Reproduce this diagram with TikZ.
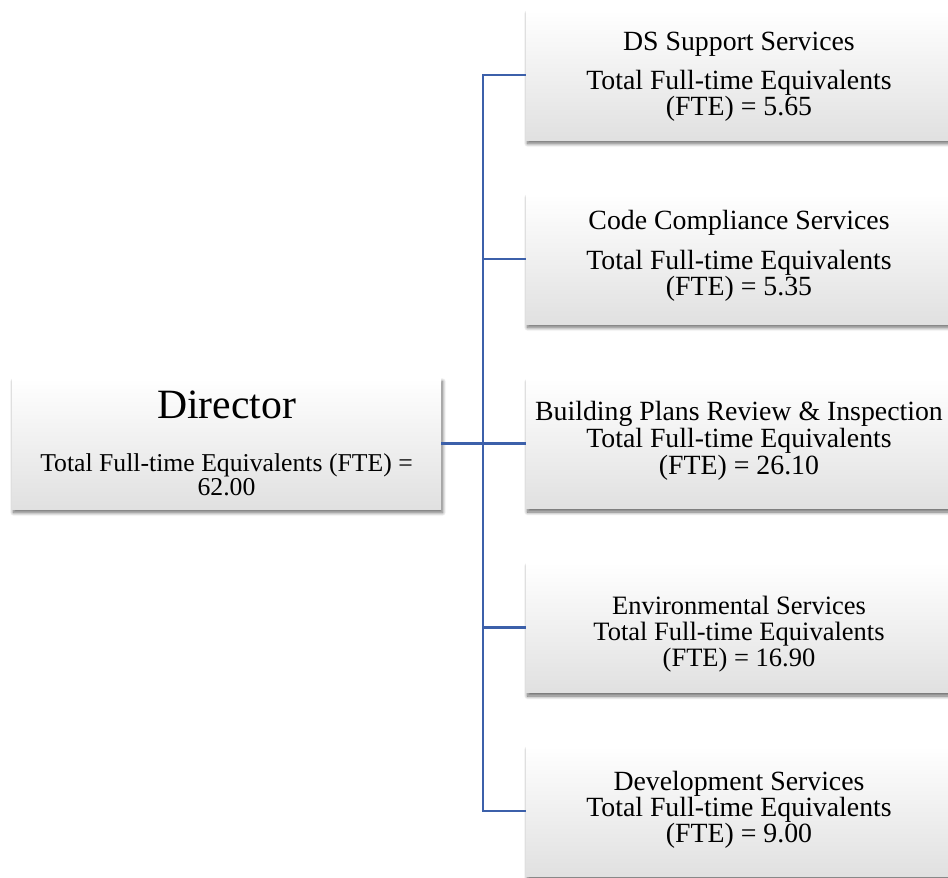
\documentclass[tikz,border=0pt]{standalone}
\usepackage{fontspec}
\setmainfont{Liberation Serif}
\usetikzlibrary{shadows.blur}
\definecolor{linkblue}{RGB}{60,96,170}
\begin{document}
\begin{tikzpicture}[x=1pt,y=-1pt,
  box/.style={draw=none, inner sep=0pt, minimum width=426pt, minimum height=130pt,
    top color=white, bottom color=black!12,
    blur shadow={shadow xshift=1.5pt, shadow yshift=-3.5pt, shadow blur radius=3.5pt, shadow blur steps=10, shadow opacity=60}},
  dirbox/.style={box, minimum width=429pt, minimum height=131pt},
  conn/.style={draw=linkblue, line width=2.6pt},
  txt/.style={align=center, inner sep=0pt, text=black},
  bodyfont/.style={font=\fontsize{27.8}{25}\selectfont},
]
\useasboundingbox (0,0) rectangle (948,878);

% boxes
\node[dirbox] (dir) at (226.5,443.5) {};
\node[box] (b1) at (739,75) {};
\node[box] (b2) at (739,259) {};
\node[box] (b3) at (739,443.5) {};
\node[box] (b4) at (739,627.5) {};
\node[box] (b5) at (739,811) {};

% connectors
\coordinate (j) at (483,443.5);
\draw[conn] (dir.east) -- (j);
\draw[conn] (j) |- (b1.west);
\draw[conn] (j) |- (b2.west);
\draw[conn] (j) -- (b3.west);
\draw[conn] (j) |- (b4.west);
\draw[conn] (j) |- (b5.west);

% texts
\node[txt, anchor=base, font=\fontsize{41.7}{44}\selectfont] (tdir1) at (226.5,418) {Director};
\node[txt, font=\fontsize{25.7}{23.5}\selectfont] (tdir2) at (226.5,475) {Total Full-time Equivalents (FTE) =\\62.00};

\node[txt, bodyfont] (t1) at ([yshift=-1.5pt]b1.center) {DS Support Services\\[13pt]Total Full-time Equivalents\\(FTE) = 5.65};
\node[txt, bodyfont] (t2) at ([yshift=3pt]b2.center) {Code Compliance Services\\[13pt]Total Full-time Equivalents\\(FTE) = 5.35};
\node[txt, font=\fontsize{27.8}{27}\selectfont] (t3) at ([yshift=3pt]b3.center) {Building Plans Review \& Inspection\\Total Full-time Equivalents\\(FTE) = 26.10};
\node[txt, font=\fontsize{26.5}{26}\selectfont] (t4) at ([yshift=-6.5pt]b4.center) {Environmental Services\\Total Full-time Equivalents\\(FTE) = 16.90};
\node[txt, font=\fontsize{27.8}{26}\selectfont] (t5) at ([yshift=1pt]b5.center) {Development Services\\Total Full-time Equivalents\\(FTE) = 9.00};
\end{tikzpicture}
\end{document}
